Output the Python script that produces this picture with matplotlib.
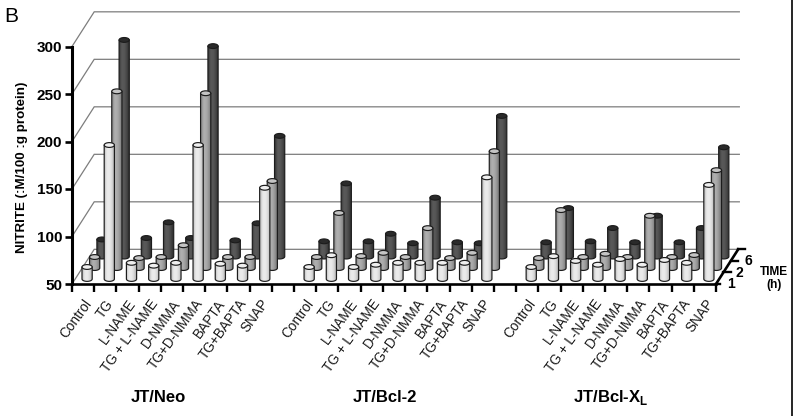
import numpy as np
import matplotlib
matplotlib.use("Agg")
import matplotlib.pyplot as plt
from matplotlib.patches import PathPatch, Ellipse
from matplotlib.path import Path
from matplotlib.colors import LinearSegmentedColormap

plt.rcParams['font.family'] = ['Liberation Sans', 'DejaVu Sans']

treatments = ["Control", "TG", "L-NAME", "TG + L-NAME", "D-NMMA", "TG+D-NMMA",
              "BAPTA", "TG+BAPTA", "SNAP"]
groups = ["JT/Neo", "JT/Bcl-2", "JT/Bcl-X$_{\\mathregular{L}}$"]
y_ticks = [50, 100, 150, 200, 250, 300]
time_labels = ["1", "2", "6"]

neo_1h = [62.6, 191, 67, 64, 67, 191, 66, 64, 146]
neo_2h = [61.6, 236, 60.5, 61.6, 74, 234, 61.6, 61.6, 141.6]
neo_6h = [68, 278, 69.5, 86, 69.5, 271.5, 67, 85, 177]
bcl2_1h = [62.6, 75, 62.6, 65, 67, 67, 67, 67, 157]
bcl2_2h = [61.6, 108, 62.6, 66, 61.6, 92, 60.5, 66, 173]
bcl2_6h = [66, 127, 66, 74, 64, 112, 65, 64, 198]
xl_1h = [62.6, 74, 69, 65, 71, 65, 70, 67, 149]
xl_2h = [60.5, 111, 61.6, 65, 61.6, 105, 61.6, 63.7, 153]
xl_6h = [65, 101, 66, 80, 65, 93, 65, 80, 165]

series = [[neo_1h, neo_2h, neo_6h], [bcl2_1h, bcl2_2h, bcl2_6h], [xl_1h, xl_2h, xl_6h]]

W, H = 793, 416
fig = plt.figure(figsize=(W / 100, H / 100), dpi=100)
fig.patch.set_facecolor('white')
ax = fig.add_axes([72 / W, (H - 284) / H, 644 / W, 237.5 / H])
ax.patch.set_visible(False)

PX_X = 644 / 29
PX_Y = 237.5 / 250

BAR_W = 0.46
ELL_H = 4.8 / PX_Y
ROW_X = [0.68, 1.02, 1.35]
ROW_BASE = [55.3, 66.8, 78.9]
ROW_ELL = ['#efefef', '#c4c4c4', '#2a2a2a']
ROW_CMAP = [
    LinearSegmentedColormap.from_list('a', ['#bdbdbd', '#e9e9e9', '#ebebeb', '#d6d6d6', '#a8a8a8']),
    LinearSegmentedColormap.from_list('b', ['#8a8a8a', '#b0b0b0', '#aaaaaa', '#929292', '#6a6a6a']),
    LinearSegmentedColormap.from_list('c', ['#3a3a3a', '#5a5a5a', '#565656', '#444444', '#2a2a2a']),
]
GRAD = np.linspace(0, 1, 24)[None, :]
EDGE = '#1c1c1c'

# walls
DEPTH_X, DEPTH_Y = 1.0, 36.5
WALL_RIGHT = 30.05
for v in y_ticks:
    ax.plot([0, DEPTH_X, WALL_RIGHT], [v, v + DEPTH_Y, v + DEPTH_Y], color='#7d7d7d', lw=0.9,
            clip_on=False, zorder=1, solid_joinstyle='miter')


def cylinder(x, base, value, row):
    z = 10 - 3 * row
    top = base + (value - 50)
    left, right = x - BAR_W / 2, x + BAR_W / 2
    t = np.linspace(np.pi, 2 * np.pi, 30)
    arc_x = x + BAR_W / 2 * np.cos(t)
    arc_y = base + ELL_H / 2 * np.sin(t)
    poly = np.vstack([[[left, top]], np.column_stack([arc_x, arc_y]), [[right, top]], [[left, top]]])
    body = PathPatch(Path(poly, closed=True), transform=ax.transData, fc='none', ec=EDGE, lw=0.85,
                     clip_on=False, zorder=z + 1)
    im = ax.imshow(GRAD, cmap=ROW_CMAP[row], vmin=0, vmax=1, aspect='auto',
                   extent=[left, right, base - ELL_H / 2, top], zorder=z, interpolation='bilinear')
    ax.add_patch(body)
    im.set_clip_box(fig.bbox)
    im.set_clip_path(body)
    ax.add_patch(Ellipse((x, top), BAR_W, ELL_H, fc=ROW_ELL[row], ec=EDGE, lw=0.85,
                         clip_on=False, zorder=z + 2))


for g, rows in enumerate(series):
    for row in (2, 1, 0):
        for i, value in enumerate(rows[row]):
            cylinder(g * 10 + i + ROW_X[row], ROW_BASE[row], value, row)

ax.set_xlim(0, 29)
ax.set_ylim(50, 300)

for side in ('top', 'right'):
    ax.spines[side].set_visible(False)
ax.spines['left'].set_linewidth(2.2)
ax.spines['bottom'].set_linewidth(1.9)

ax.set_yticks(y_ticks)
ax.set_yticklabels([str(v) for v in y_ticks], fontsize=11, fontweight='bold')
ax.tick_params(axis='y', length=5, width=1.9, pad=2)
ax.set_xticks(np.arange(0, 30))
ax.set_xticklabels([])
ax.tick_params(axis='x', which='major', length=5.5, width=1.7)

slots, labels = [], []
for g in range(3):
    for i, name in enumerate(treatments):
        slots.append(g * 10 + i + 0.5)
        labels.append(name)
ax.set_xticks(slots, minor=True)
ax.set_xticklabels(labels, minor=True, rotation=54, ha='right', rotation_mode='anchor',
                   fontsize=9.8, color='#1a1a1a')
ax.tick_params(axis='x', which='minor', length=0, pad=9.2)

ax.set_ylabel("NITRITE (:M/100 :g protein)", fontsize=9.6, fontweight='bold', labelpad=6, y=0.49)

# depth axis
ax.plot([29, 30], [50, 50 + DEPTH_Y], color='black', lw=1.9, clip_on=False, zorder=20)
for k in range(4):
    fx = 29 + k / 3
    fy = 50 + k * DEPTH_Y / 3
    ax.plot([fx, fx + 0.32 if k else fx + 0.18], [fy, fy], color='black', lw=1.7, clip_on=False, zorder=20)
for k, lab in enumerate(time_labels):
    ax.text(29 + 0.68 + k * 0.38, 49.5 + k * 12.4, lab, fontsize=10, fontweight='bold',
            ha='center', va='center', clip_on=False)
ax.text(31.6, 63, "TIME", fontsize=8.6, fontweight='bold', ha='center', va='center')
ax.text(31.6, 48.5, "(h)", fontsize=8.6, fontweight='bold', ha='center', va='center')

# group titles
for center, name in zip([3.88, 14.1, 24.25], groups):
    ax.text(center, 50 - 113.5 / PX_Y, name, fontsize=12, fontweight='bold', ha='center', va='center')

fig.text(11 / W, 1 - 16 / H, "B", fontsize=15, ha='center', va='center')
fig.add_artist(plt.Line2D([792.2 / W, 792.2 / W], [0, 1], color='black', lw=1.2))

fig.savefig('out.png', dpi=100)
